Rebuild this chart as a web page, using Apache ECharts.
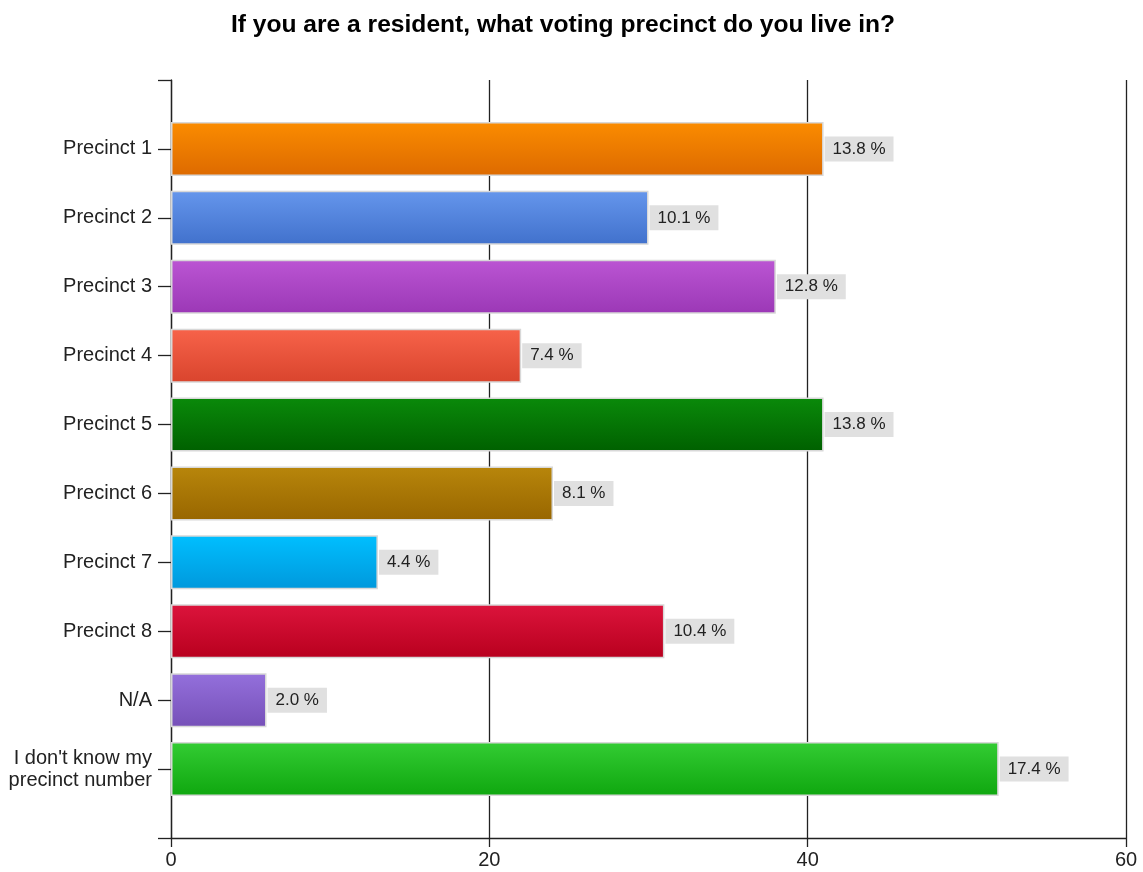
<!DOCTYPE html>
<html>
<head>
<meta charset="utf-8">
<script src="https://cdn.jsdelivr.net/npm/echarts@6/dist/echarts.min.js"></script>
<style>
  html, body { margin: 0; padding: 0; background: #fff; }
  #main { width: 1143px; height: 872px; }
</style>
</head>
<body>
<div id="main"></div>
<script>
// data
const categories = ['Precinct 1', 'Precinct 2', 'Precinct 3', 'Precinct 4', 'Precinct 5',
    'Precinct 6', 'Precinct 7', 'Precinct 8', 'N/A', "I don't know my\nprecinct number"]
const counts = [41, 30, 38, 22, 41, 24, 13, 31, 6, 52]
const percents = ['13.8', '10.1', '12.8', '7.4', '13.8', '8.1', '4.4', '10.4', '2.0', '17.4']
const xTicks = [0, 20, 40, 60]

// top / bottom colour of each bar's gradient
const barColors = [
    ['#fb8c00', '#dd6a00'],
    ['#6596ec', '#4171cc'],
    ['#bb55d3', '#9b38b6'],
    ['#f7634a', '#d9442d'],
    ['#0a8a0a', '#006000'],
    ['#b8860b', '#986600'],
    ['#00bfff', '#0098dc'],
    ['#dc143c', '#b8001e'],
    ['#9470dc', '#7650b8'],
    ['#33cc33', '#0fa70f']
]

const font = 'Arial, "Liberation Sans", sans-serif'

// pad the category axis with an empty slot at each end
const axisData = [''].concat(categories, [''])
const seriesData = ['-'].concat(counts.map(function (v, i) {
    return {
        value: v,
        pct: percents[i],
        itemStyle: {
            color: new echarts.graphic.LinearGradient(0, 0, 0, 1, [
                { offset: 0, color: barColors[i][0] },
                { offset: 1, color: barColors[i][1] }
            ])
        }
    }
}), ['-'])

const myChart = echarts.init(document.getElementById('main'))
myChart.setOption({
    animation: false,
    title: {
        text: 'If you are a resident, what voting precinct do you live in?',
        left: 558,
        textAlign: 'center',
        top: 8,
        textStyle: { fontFamily: font, fontSize: 24.6, fontWeight: 'bold', color: '#000' }
    },
    grid: { left: 171, right: 17, top: 80, bottom: 34 },
    xAxis: {
        type: 'value',
        min: 0,
        max: 60,
        interval: 20,
        axisLine: { show: true, lineStyle: { color: '#222', width: 1.3 } },
        axisTick: { show: true, length: 9, lineStyle: { color: '#222', width: 1.3 } },
        axisLabel: {
            fontFamily: font, fontSize: 20, color: '#222', margin: 12,
            customValues: xTicks
        },
        splitLine: { show: true, lineStyle: { color: '#222', width: 1.3 } }
    },
    yAxis: {
        type: 'category',
        inverse: true,
        boundaryGap: false,
        data: axisData,
        axisLine: { show: true, lineStyle: { color: '#222', width: 1.3 } },
        axisTick: { show: true, length: 13, lineStyle: { color: '#222', width: 1.3 } },
        axisLabel: {
            fontFamily: font, fontSize: 20, color: '#222', margin: 19,
            align: 'right', lineHeight: 22
        },
        splitLine: { show: false }
    },
    series: [{
        type: 'bar',
        data: seriesData,
        barWidth: 54,
        itemStyle: { borderColor: '#d8d8d8', borderWidth: 1.5 },
        label: {
            show: true,
            position: 'right',
            distance: 1,
            formatter: function (p) { return p.data.pct + ' %' },
            fontFamily: font,
            fontSize: 17,
            color: '#222',
            backgroundColor: '#e0e0e0',
            padding: [4, 8, 4, 8]
        }
    }]
})
</script>
</body>
</html>
